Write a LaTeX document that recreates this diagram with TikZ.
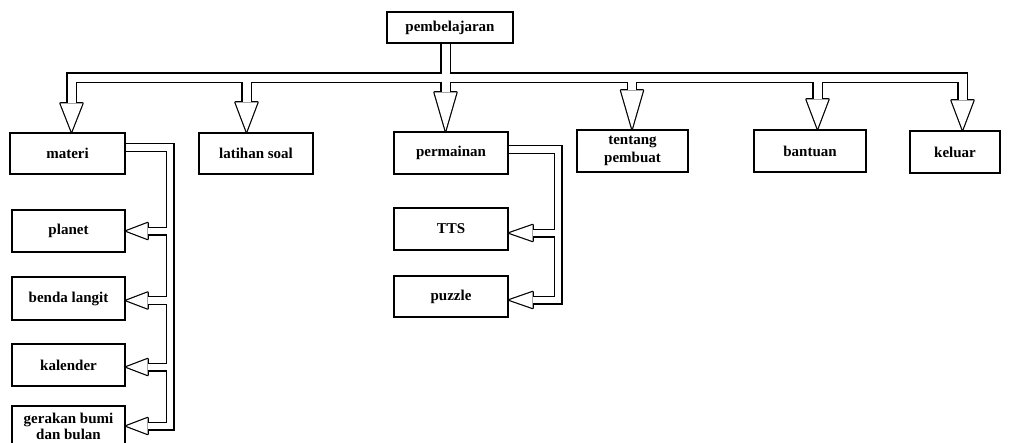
\documentclass[tikz,border=0pt]{standalone}
\usepackage{fontspec}
\setmainfont{Liberation Serif}
\usetikzlibrary{calc}
\pgfdeclarelayer{bg}
\pgfsetlayers{bg,main}
\tikzset{
  box/.style={draw, line width=1.3pt, font=\bfseries\fontsize{15}{17}\selectfont,
              align=center, inner sep=0pt},
  bandout/.style={line width=#1, line cap=butt, line join=miter, draw=black},
  bandin/.style={line width=#1, line cap=butt, line join=miter, draw=white},
  headout/.style={fill=black, draw=black, line width=2.4pt, line join=round},
  headin/.style={fill=white},
}
\begin{document}
\begin{tikzpicture}[x=1pt,y=-1pt]
\useasboundingbox (0,0) rectangle (1015,442);

% boxes
\node[box, minimum width=126pt, minimum height=31pt] (top) at (450,27.5) {pembelajaran};

\node[box, minimum width=115pt, minimum height=41pt] (materi)    at (67.5,153.5) {materi};
\node[box, minimum width=114pt, minimum height=41pt] (latihan)   at (256,153.5)  {latihan soal};
\node[box, minimum width=114pt, minimum height=42pt] (permainan) at (451,153)    {permainan};
\node[box, minimum width=111pt, minimum height=42pt] (tentang)   at (632.5,151)  {tentang\\[0.5pt]pembuat};
\node[box, minimum width=112pt, minimum height=42pt] (bantuan)   at (810,151)    {bantuan};
\node[box, minimum width=90pt,  minimum height=42pt] (keluar)    at (955,152)    {keluar};

\node[box, minimum width=113pt, minimum height=42pt] (planet)   at (68.5,231)   {planet};
\node[box, minimum width=113pt, minimum height=43pt] (benda)    at (68.5,298.5) {benda langit};
\node[box, minimum width=113pt, minimum height=42pt] (kalender) at (68.5,365)   {kalender};
\node[box, minimum width=113pt, minimum height=40pt] (gerakan)  at (68.5,426)   {gerakan bumi\\[-1pt]dan bulan};

\node[box, minimum width=114pt, minimum height=42pt] (tts)    at (451,229)   {TTS};
\node[box, minimum width=114pt, minimum height=41pt] (puzzle) at (451,296.5) {puzzle};

% arrow tips on the boxes
\coordinate (busy) at (0,77.5);
\coordinate (tM) at ([xshift=4pt,yshift=1pt]materi.north);
\coordinate (tL) at ([xshift=-9.5pt,yshift=1pt]latihan.north);
\coordinate (tP) at ([xshift=-5.5pt,yshift=1pt]permainan.north);
\coordinate (tT) at ([xshift=-0.5pt,yshift=1pt]tentang.north);
\coordinate (tB) at ([xshift=7.5pt,yshift=1pt]bantuan.north);
\coordinate (tK) at ([xshift=7.5pt,yshift=1pt]keluar.north);
\coordinate (stem) at ([xshift=-4.5pt]top.south);

\coordinate (mv) at ([xshift=44.5pt,yshift=6pt]materi.east);
\coordinate (t1) at ([xshift=1pt]planet.east);
\coordinate (t2) at ([xshift=1pt,yshift=-2pt]benda.east);
\coordinate (t3) at ([xshift=1pt,yshift=-2pt]kalender.east);
\coordinate (t4) at ([xshift=1pt]gerakan.east);

\coordinate (pv) at ([xshift=49.5pt,yshift=3.5pt]permainan.east);
\coordinate (u1) at ([xshift=1pt,yshift=-4pt]tts.east);
\coordinate (u2) at ([xshift=1pt,yshift=-3.5pt]puzzle.east);

\begin{pgfonlayer}{bg}
\fill[white] (0,0) rectangle (1015,442);

% outlines of the hollow arrows (tip / head length)
\draw[bandout=10.5pt] ($(tM)+(0,-28)$) -- (tM |- busy) -- (tK |- busy) -- ($(tK)+(0,-29)$);
\draw[bandout=10.5pt] (stem) -- ($(tP)+(0,-38)$);
\foreach \t/\h in {tL/29,tT/38,tB/29}
  \draw[bandout=10.5pt] (\t |- busy) -- ($(\t)+(0,-\h)$);
\foreach \t/\h in {tM/28,tL/29,tP/38,tT/38,tB/29,tK/29}
  \filldraw[headout] ($(\t)+(-11,-\h)$) -- ($(\t)+(11,-\h)$) -- (\t) -- cycle;

\draw[bandout=9pt] ([yshift=6pt]materi.east) -- (mv) -- (mv |- t4) -- ($(t4)+(21,0)$);
\foreach \t in {t1,t2,t3}
  \draw[bandout=9pt] (mv |- \t) -- ($(\t)+(21,0)$);
\draw[bandout=9pt] ([yshift=3.5pt]permainan.east) -- (pv) -- (pv |- u2) -- ($(u2)+(23,0)$);
\draw[bandout=9pt] (pv |- u1) -- ($(u1)+(23,0)$);
\foreach \t in {t1,t2,t3,t4}
  \filldraw[headout] (\t) -- ($(\t)+(21,-8)$) -- ($(\t)+(21,8)$) -- cycle;
\foreach \t in {u1,u2}
  \filldraw[headout] (\t) -- ($(\t)+(23,-8)$) -- ($(\t)+(23,8)$) -- cycle;

% hollow interiors
\draw[bandin=8pt] ($(tM)+(0,-28)$) -- (tM |- busy) -- (tK |- busy) -- ($(tK)+(0,-29)$);
\draw[bandin=8pt] (stem) -- ($(tP)+(0,-38)$);
\foreach \t/\h in {tL/29,tT/38,tB/29}
  \draw[bandin=8pt] (\t |- busy) -- ($(\t)+(0,-\h)$);
\foreach \t/\h in {tM/28,tL/29,tP/38,tT/38,tB/29,tK/29}
  \fill[headin] ($(\t)+(-11,-\h)$) -- ($(\t)+(11,-\h)$) -- (\t) -- cycle;

\draw[bandin=6.5pt] ([yshift=6pt]materi.east) -- (mv) -- (mv |- t4) -- ($(t4)+(21,0)$);
\foreach \t in {t1,t2,t3}
  \draw[bandin=6.5pt] (mv |- \t) -- ($(\t)+(21,0)$);
\draw[bandin=6.5pt] ([yshift=3.5pt]permainan.east) -- (pv) -- (pv |- u2) -- ($(u2)+(23,0)$);
\draw[bandin=6.5pt] (pv |- u1) -- ($(u1)+(23,0)$);
\foreach \t in {t1,t2,t3,t4}
  \fill[headin] (\t) -- ($(\t)+(21,-8)$) -- ($(\t)+(21,8)$) -- cycle;
\foreach \t in {u1,u2}
  \fill[headin] (\t) -- ($(\t)+(23,-8)$) -- ($(\t)+(23,8)$) -- cycle;
\end{pgfonlayer}
\end{tikzpicture}
\end{document}
